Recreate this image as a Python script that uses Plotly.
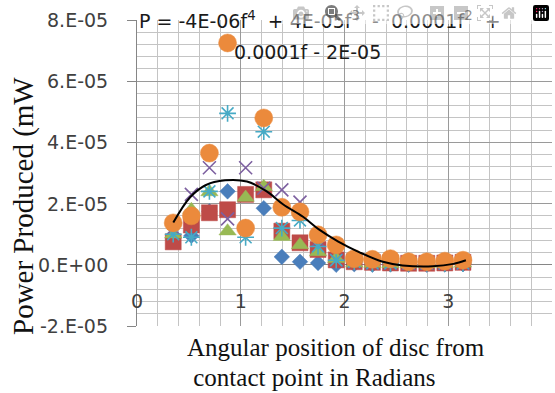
import plotly.graph_objects as go

# ---------------- data ----------------
ANGLE = [0.349, 0.524, 0.698, 0.873, 1.047, 1.222, 1.396, 1.571, 1.745,
         1.920, 2.094, 2.269, 2.443, 2.618, 2.793, 2.967, 3.142]

S_DIAMOND = [0.85e-05, 0.95e-05, 1.75e-05, 2.40e-05, 1.15e-05, 1.85e-05, 0.26e-05, 0.10e-05, 0.06e-05,
             0.00e-05, 0.02e-05, 0.00e-05, 0.01e-05, 0.00e-05, 0.00e-05, 0.01e-05, 0.02e-05]
S_SQUARE = [0.75e-05, 1.30e-05, 1.70e-05, 1.80e-05, 2.30e-05, 2.45e-05, 1.10e-05, 0.72e-05, 0.50e-05,
            0.16e-05, 0.10e-05, 0.08e-05, 0.06e-05, 0.05e-05, 0.05e-05, 0.06e-05, 0.08e-05]
S_TRIANGLE = [1.00e-05, 1.80e-05, 2.38e-05, 1.10e-05, 2.20e-05, 2.55e-05, 0.92e-05, 0.65e-05, 0.42e-05,
              0.20e-05, 0.05e-05, 0.04e-05, 0.03e-05, 0.03e-05, 0.03e-05, 0.04e-05, 0.05e-05]
S_XMARK = [1.20e-05, 2.30e-05, 3.17e-05, 1.50e-05, 3.17e-05, 2.50e-05, 2.45e-05, 2.05e-05, 0.80e-05,
           0.15e-05, 0.10e-05, 0.05e-05, 0.05e-05, 0.05e-05, 0.05e-05, 0.05e-05, 0.05e-05]
S_STAR = [1.00e-05, 0.90e-05, 2.40e-05, 4.95e-05, 0.90e-05, 4.35e-05, 1.20e-05, 1.45e-05, 0.60e-05,
          0.15e-05, 0.10e-05, 0.05e-05, 0.05e-05, 0.05e-05, 0.05e-05, 0.05e-05, 0.05e-05]
S_CIRCLE = [1.37e-05, 1.60e-05, 3.65e-05, 7.25e-05, 1.20e-05, 4.80e-05, 1.88e-05, 1.73e-05, 0.98e-05,
            0.65e-05, 0.20e-05, 0.18e-05, 0.20e-05, 0.10e-05, 0.10e-05, 0.12e-05, 0.15e-05]

TREND_X = [0.35, 0.51, 0.66, 0.85, 1.06, 1.25, 1.41, 1.60, 1.76, 1.94, 2.15, 2.37, 2.56, 2.85, 3.05, 3.17]
TREND_Y = [1.38e-05, 2.20e-05, 2.60e-05, 2.76e-05, 2.72e-05, 2.40e-05, 1.97e-05, 1.57e-05, 1.14e-05,
           0.76e-05, 0.40e-05, 0.10e-05, -0.02e-05, -0.05e-05, 0.03e-05, 0.15e-05]

X_TICKS = [0, 1, 2, 3, 4]
X_TICK_TEXT = ["0", "1", "2", "3", "4"]
Y_TICKS = [-2e-05, 0, 2e-05, 4e-05, 6e-05, 8e-05]
Y_TICK_TEXT = ["-2.E-05", "0.E+00", "2.E-05", "4.E-05", "6.E-05", "8.E-05"]

NB = "\u00a0"
X_TITLE_1 = "Angular position of disc from"
X_TITLE_2 = NB + "contact point in Radians"
Y_TITLE = "Power Produced (mW"
EQ_1 = ("P = -4E-06f<sup>4</sup>" + NB * 2 + "+ 4E-05f<sup>3</sup>" + NB * 2 + "-" + NB * 2
        + "0.0001f<sup>2</sup>" + NB * 2 + "+")
EQ_2 = "0.0001f - 2E-05"

# ---------------- figure ----------------
fig = go.Figure()


def add_series(y, symbol, color, size, line=False):
    marker = dict(symbol=symbol, size=size, color=color)
    if line:
        marker["line"] = dict(color=color, width=1.6)
    else:
        marker["line"] = dict(color=color, width=0.5)
    fig.add_trace(go.Scatter(x=ANGLE, y=y, mode="markers", marker=marker,
                             showlegend=False, cliponaxis=False))


add_series(S_DIAMOND, "diamond", "#4A7EBB", 12)
add_series(S_SQUARE, "square", "#BE4B48", 16)
add_series(S_TRIANGLE, "triangle-up", "#98B954", 15)
add_series(S_XMARK, "x-thin", "#7D60A0", 13, line=True)
add_series(S_STAR, "asterisk", "#46AAC5", 14, line=True)
add_series(S_CIRCLE, "circle", "#EB8A3C", 18)

fig.add_trace(go.Scatter(x=TREND_X, y=TREND_Y, mode="lines",
                         line=dict(color="black", width=2, shape="spline", smoothing=1.0),
                         showlegend=False))

tick_font = dict(family="DejaVu Sans", size=19, color="#404040")
serif = "Liberation Serif"

# y tick labels as annotations (right-aligned at the reference label position)
y_label_ann = [
    dict(text=t, xref="paper", yref="y", x=(110 - 137) / 415, y=v,
         xanchor="right", yanchor="middle", showarrow=False, font=tick_font)
    for v, t in zip(Y_TICKS, Y_TICK_TEXT)
]

fig.update_layout(
    width=555, height=393,
    margin=dict(l=137, r=3, t=20, b=67, autoexpand=False),
    paper_bgcolor="white", plot_bgcolor="white",
    xaxis=dict(
        range=[0, 4], tickvals=X_TICKS, ticktext=X_TICK_TEXT,
        tickfont=tick_font, showline=False, ticks="", automargin=False,
        anchor="free", position=0.125,
        showgrid=True, gridcolor="#9A9A9A", gridwidth=1.3,
        minor=dict(dtick=0.2, showgrid=True, gridcolor="#C4C4C4", gridwidth=1),
        zeroline=False,
    ),
    yaxis=dict(
        range=[-2e-05, 8e-05], tickvals=Y_TICKS, showticklabels=False, automargin=False,
        showline=True, linecolor="#868686", linewidth=1.3,
        ticks="outside", ticklen=9, tickcolor="#868686",
        showgrid=True, gridcolor="#9A9A9A", gridwidth=1.3,
        minor=dict(dtick=0.4e-05, showgrid=True, gridcolor="#C4C4C4", gridwidth=1),
        zeroline=True, zerolinecolor="#868686", zerolinewidth=1.3,
    ),
    annotations=y_label_ann + [
        dict(text=EQ_1, xref="paper", yref="paper", x=0.0, y=1.0,
             xanchor="left", yanchor="middle", showarrow=False,
             font=dict(family="DejaVu Sans", size=19, color="#1a1a1a")),
        dict(text=EQ_2, xref="paper", yref="paper", x=0.229, y=0.895,
             xanchor="left", yanchor="middle", showarrow=False,
             font=dict(family="DejaVu Sans", size=19, color="#1a1a1a")),
        dict(text=X_TITLE_1, xref="paper", yref="paper", x=0.1157, y=(326 - 347) / 306,
             xanchor="left", yanchor="middle", showarrow=False,
             font=dict(family=serif, size=25, color="#111111")),
        dict(text=X_TITLE_2, xref="paper", yref="paper", x=0.1157, y=(326 - 377) / 306,
             xanchor="left", yanchor="middle", showarrow=False,
             font=dict(family=serif, size=25, color="#111111")),
        dict(text=Y_TITLE, xref="paper", yref="paper", x=(23 - 137) / 415, y=(326 - 206) / 306,
             xanchor="center", yanchor="middle", textangle=-90, showarrow=False,
             font=dict(family=serif, size=29, color="#111111")),
    ],
)

# remove the page's default 8 px body margin so the figure sits at the window's corner
fig.write_html("out.html", post_script="document.body.style.margin='0px';")
